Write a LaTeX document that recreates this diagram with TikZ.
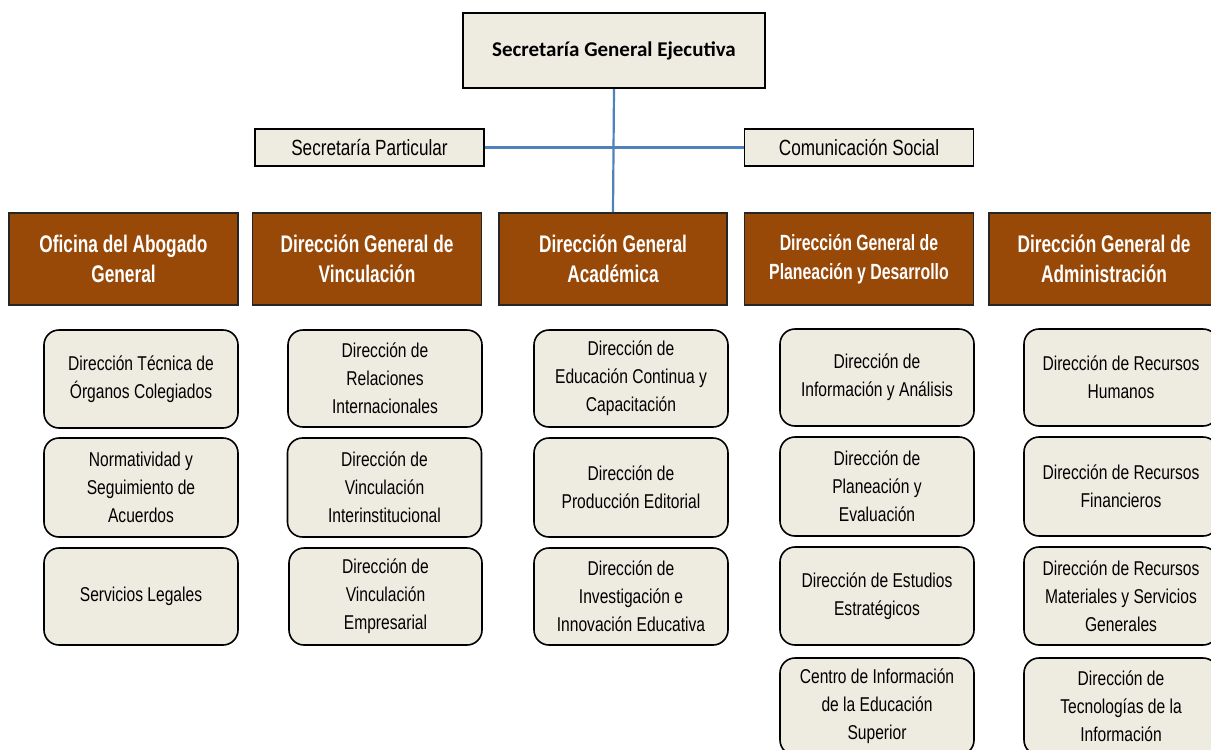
\documentclass[tikz,border=0pt]{standalone}
\usepackage{fontspec}
\setmainfont{Liberation Sans}
\newfontfamily\nrw[FakeStretch=0.78]{Liberation Sans}
\newfontfamily\hdrf[FakeStretch=0.72]{Liberation Sans}
\newfontfamily\topf{Carlito}
\definecolor{beige}{HTML}{EEECE1}
\definecolor{brownh}{HTML}{984807}
\definecolor{lineblue}{HTML}{4F81BD}
\tikzset{
  topbox/.style={draw=black, line width=2.2pt, fill=beige, inner sep=0pt, minimum width=302pt, minimum height=75pt, font=\topf\bfseries\fontsize{21}{25}\selectfont},
  sidebox/.style={draw=black, line width=1.6pt, fill=beige, inner sep=0pt, minimum width=229pt, minimum height=37pt, font=\nrw\fontsize{22}{25}\selectfont},
  headbox/.style={draw=black!85, line width=1.6pt, fill=brownh, text=white, inner sep=0pt, minimum width=229pt, minimum height=92pt, align=center, font=\hdrf\bfseries\fontsize{24}{30}\selectfont},
  unitbox/.style={draw=black, line width=1.6pt, fill=beige, rounded corners=15pt, inner sep=0pt, minimum width=194pt, align=center, font=\nrw\fontsize{20}{28}\selectfont},
  conn/.style={draw=lineblue, line width=2.2pt}
}
\begin{document}
\begin{tikzpicture}[x=1pt,y=-1pt]
\useasboundingbox (0,0) rectangle (1211,750);
\clip (0,0) rectangle (1211,750);
\fill[white] (0,0) rectangle (1211,750);
% top
\node[topbox] (sge) at (614,50.5) {Secretaría General Ejecutiva};
\node[sidebox] (sp) at (369.5,147.5) {Secretaría Particular};
\node[sidebox] (cs) at (859,147.5) {Comunicación Social};
% headers
\node[headbox] (h1) at (123.5,259) {Oficina del Abogado\\General};
\node[headbox] (h2) at (367,259) {Dirección General de\\Vinculación};
\node[headbox, minimum width=228pt] (h3) at (613,259) {Dirección General\\Académica};
\node[headbox, font=\hdrf\bfseries\fontsize{22}{29}\selectfont] (h4) at (859,259) {Dirección General de\\Planeación y Desarrollo};
\node[headbox, minimum width=230pt] (h5) at (1104,259) {Dirección General de\\Administración};
% connectors
\draw[conn] (sge.south) -- (h3.north);
\draw[conn] (sp.east) -- (cs.west);
% column 1
\node[unitbox, minimum height=98pt] (a1) at (141,379) {Dirección Técnica de\\Órganos Colegiados};
\node[unitbox, minimum height=99pt] (a2) at (141,487.5) {Normatividad y\\Seguimiento de\\Acuerdos};
\node[unitbox, minimum height=97pt] (a3) at (141,596.5) {Servicios Legales};
% column 2
\node[unitbox, minimum height=97pt] (b1) at (385,378.5) {Dirección de\\Relaciones\\Internacionales};
\node[unitbox, minimum height=99pt] (b2) at (384.5,487.5) {Dirección de\\Vinculación\\Interinstitucional};
\node[unitbox, minimum height=97pt, minimum width=193pt] (b3) at (385.5,596.5) {Dirección de\\Vinculación\\Empresarial};
% column 3
\node[unitbox, minimum height=97pt] (c1) at (631,378.5) {Dirección de\\Educación Continua y\\Capacitación};
\node[unitbox, minimum height=99pt] (c2) at (631,487.5) {Dirección de\\Producción Editorial};
\node[unitbox, minimum height=97pt] (c3) at (631,596.5) {Dirección de\\Investigación e\\Innovación Educativa};
% column 4
\node[unitbox, minimum height=97pt] (d1) at (877,377.5) {Dirección de\\Información y Análisis};
\node[unitbox, minimum height=99pt] (d2) at (877,486.5) {Dirección de\\Planeación y\\Evaluación};
\node[unitbox, minimum height=98pt] (d3) at (877,596) {Dirección de Estudios\\Estratégicos};
\node[unitbox, minimum height=97pt] (d4) at (877,706.5) {Centro de Información\\de la Educación\\Superior};
% column 5
\node[unitbox, minimum height=97pt] (e1) at (1121,377.5) {Dirección de Recursos\\Humanos};
\node[unitbox, minimum height=99pt] (e2) at (1121,486.5) {Dirección de Recursos\\Financieros};
\node[unitbox, minimum height=98pt] (e3) at (1121,596) {Dirección de Recursos\\Materiales y Servicios\\Generales};
\node[unitbox, minimum height=97pt] (e4) at (1121,706.5) {Dirección de\\Tecnologías de la\\Información};
\end{tikzpicture}
\end{document}
